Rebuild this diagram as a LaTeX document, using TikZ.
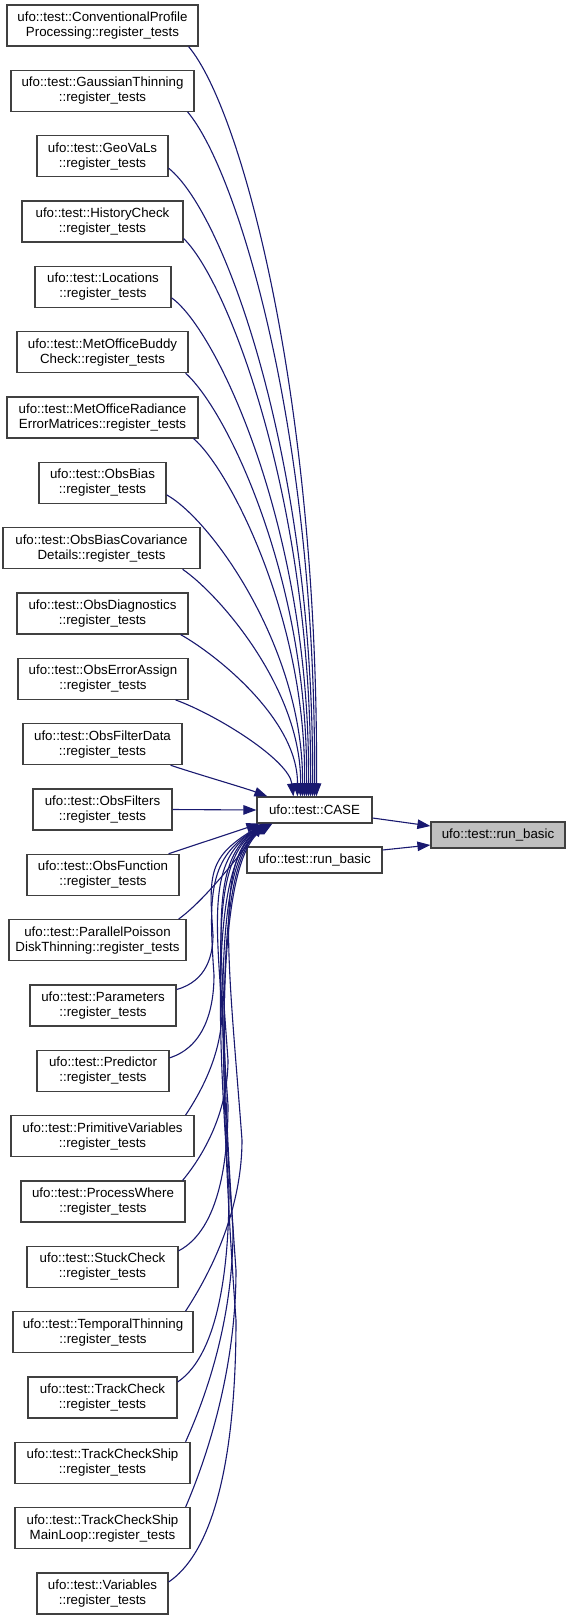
\documentclass[tikz,border=0pt]{standalone}
\usepackage{fontspec}
\setmainfont{Liberation Sans}
\usetikzlibrary{arrows.meta}
\definecolor{boxgray}{HTML}{404040}
\definecolor{hlgray}{HTML}{BFBFBF}
\definecolor{edgeblue}{HTML}{191970}
\tikzset{
  box/.style={draw=boxgray, line width=1.2pt, fill=white, align=center, inner sep=0pt,
    minimum height=41pt, font=\fontsize{13.3pt}{15pt}\selectfont},
  box1/.style={box, minimum height=26pt},
  edge/.style={draw=edgeblue, line width=1.1pt, -{Triangle[length=13pt,width=9.5pt]}}
}
\begin{document}
\begin{tikzpicture}[x=1pt,y=-1pt]
\useasboundingbox (0,0) rectangle (571,1620);
\fill[white] (0,0) rectangle (571,1620);
% left column
\node[box, minimum width=191pt] (n0) at (102.5,25.5) {ufo::test::ConventionalProfile\\Processing::register\_tests};
\node[box, minimum width=183pt] (n1) at (102.5,90.83) {ufo::test::GaussianThinning\\::register\_tests};
\node[box, minimum width=131pt] (n2) at (102.5,156.17) {ufo::test::GeoVaLs\\::register\_tests};
\node[box, minimum width=161pt] (n3) at (102.5,221.5) {ufo::test::HistoryCheck\\::register\_tests};
\node[box, minimum width=136pt] (n4) at (103,286.83) {ufo::test::Locations\\::register\_tests};
\node[box, minimum width=171pt] (n5) at (102.5,352.17) {ufo::test::MetOfficeBuddy\\Check::register\_tests};
\node[box, minimum width=191pt] (n6) at (102.5,417.5) {ufo::test::MetOfficeRadiance\\ErrorMatrices::register\_tests};
\node[box, minimum width=127pt] (n7) at (102.5,482.83) {ufo::test::ObsBias\\::register\_tests};
\node[box, minimum width=197pt] (n8) at (101.5,548.17) {ufo::test::ObsBiasCovariance\\Details::register\_tests};
\node[box, minimum width=171pt] (n9) at (102.5,613.5) {ufo::test::ObsDiagnostics\\::register\_tests};
\node[box, minimum width=170pt] (n10) at (103,678.83) {ufo::test::ObsErrorAssign\\::register\_tests};
\node[box, minimum width=159pt] (n11) at (102.5,744.17) {ufo::test::ObsFilterData\\::register\_tests};
\node[box, minimum width=139pt] (n12) at (102.5,809.5) {ufo::test::ObsFilters\\::register\_tests};
\node[box, minimum width=152pt] (n13) at (103,874.83) {ufo::test::ObsFunction\\::register\_tests};
\node[box, minimum width=177pt] (n14) at (97.5,940.17) {ufo::test::ParallelPoisson\\DiskThinning::register\_tests};
\node[box, minimum width=146pt] (n15) at (103,1005.5) {ufo::test::Parameters\\::register\_tests};
\node[box, minimum width=132pt] (n16) at (103,1070.83) {ufo::test::Predictor\\::register\_tests};
\node[box, minimum width=183pt] (n17) at (102.5,1136.17) {ufo::test::PrimitiveVariables\\::register\_tests};
\node[box, minimum width=164pt] (n18) at (103,1201.5) {ufo::test::ProcessWhere\\::register\_tests};
\node[box, minimum width=151pt] (n19) at (102.5,1266.83) {ufo::test::StuckCheck\\::register\_tests};
\node[box, minimum width=180pt] (n20) at (103,1332.17) {ufo::test::TemporalThinning\\::register\_tests};
\node[box, minimum width=149pt] (n21) at (102.5,1397.5) {ufo::test::TrackCheck\\::register\_tests};
\node[box, minimum width=175pt] (n22) at (102.5,1462.83) {ufo::test::TrackCheckShip\\::register\_tests};
\node[box, minimum width=175pt] (n23) at (102.5,1528.17) {ufo::test::TrackCheckShip\\MainLoop::register\_tests};
\node[box, minimum width=131pt] (n24) at (102.5,1593.5) {ufo::test::Variables\\::register\_tests};
% middle and right
\node[box1, minimum width=115pt] (CASE) at (314.5,810) {ufo::test::CASE};
\node[box1, minimum width=135pt] (rb) at (314.5,860) {ufo::test::run\_basic};
\node[box1, minimum width=134pt, fill=hlgray] (R) at (498,835) {ufo::test::run\_basic};
% upper edges
\draw[edge] ([xshift=-10pt]n0.south east) .. controls (242,110) and (319,400) .. ([xshift=60pt]CASE.north west);
\draw[edge] ([xshift=-7pt]n1.south east) .. controls (237,170) and (317,430) .. ([xshift=58pt]CASE.north west);
\draw[edge] ([yshift=-12pt]n2.east) .. controls (227,215) and (315,470) .. ([xshift=56pt]CASE.north west);
\draw[edge] ([yshift=-17pt]n3.east) .. controls (227,280) and (313,500) .. ([xshift=54pt]CASE.north west);
\draw[edge] ([yshift=-11pt]n4.east) .. controls (217,330) and (311,530) .. ([xshift=52pt]CASE.north west);
\draw[edge] ([xshift=-3pt]n5.south east) .. controls (227,410) and (309,580) .. ([xshift=50pt]CASE.north west);
\draw[edge] ([xshift=-5pt]n6.south east) .. controls (230,470) and (307,620) .. ([xshift=48pt]CASE.north west);
\draw[edge] ([yshift=-12pt]n7.east) .. controls (212,520) and (304,650) .. ([xshift=46pt]CASE.north west);
\draw[edge] ([xshift=-18pt]n8.south east) .. controls (220,595) and (302,690) .. ([xshift=44pt]CASE.north west);
\draw[edge] ([xshift=-8pt]n9.south east) .. controls (217,655) and (298,720) .. ([xshift=41pt]CASE.north west);
\draw[edge] ([xshift=-13pt]n10.south east) .. controls (217,715) and (289,760) .. ([xshift=37pt]CASE.north west);
\draw[edge] ([xshift=-12pt]n11.south east) .. controls (200,775) and (245,788) .. ([xshift=11pt]CASE.north west);
\draw[edge] (n12.east) -- (CASE.west);
% lower edges
\draw[edge] ([xshift=-11pt]n13.north east) -- ([xshift=3pt]CASE.south west);
\draw[edge] ([xshift=-8pt]n14.north east) .. controls (205,900) and (240,855) .. ([xshift=6pt]CASE.south west);
\draw[edge] ([yshift=16pt]n15.east) .. controls (207.5,981) and (213,954) .. (213,935)
  .. controls (208.5,873) and (209,857) .. ([xshift=7pt]CASE.south west);
\draw[edge] ([yshift=13pt]n16.east) .. controls (207,1046) and (214,1004) .. (214,975)
  .. controls (208,891) and (210,858) .. ([xshift=8pt]CASE.south west);
\draw[edge] ([xshift=-9pt]n17.north east) .. controls (207,1083) and (222,1047) .. (222,1010)
  .. controls (214.5,907) and (211,858) .. ([xshift=9pt]CASE.south west);
\draw[edge] ([xshift=-3pt]n18.north east) .. controls (211,1146) and (228,1103) .. (228,1060)
  .. controls (218.5,930) and (212,858) .. ([xshift=10pt]CASE.south west);
\draw[edge] ([yshift=16pt]n19.east) .. controls (220.5,1229) and (228,1156) .. (228,1105)
  .. controls (216.7,950) and (213,858) .. ([xshift=11pt]CASE.south west);
\draw[edge] ([xshift=-8pt]n20.north east) .. controls (219,1260) and (242,1200) .. (242,1140)
  .. controls (229,966) and (214,858) .. ([xshift=12pt]CASE.south west);
\draw[edge] ([yshift=15.5pt]n21.east) .. controls (221,1353) and (229,1257) .. (229,1190)
  .. controls (214.3,988) and (215,858) .. ([xshift=13pt]CASE.south west);
\draw[edge] ([xshift=-5pt]n22.north east) .. controls (214,1379) and (233,1305) .. (233,1230)
  .. controls (216.7,1006) and (216,858) .. ([xshift=14pt]CASE.south west);
\draw[edge] ([xshift=-5pt]n23.north east) .. controls (215.6,1437) and (236,1353) .. (236,1270)
  .. controls (218,1024) and (217,858) .. ([xshift=15pt]CASE.south west);
\draw[edge] ([yshift=11.5pt]n24.east) .. controls (226,1543) and (236,1412) .. (236,1320)
  .. controls (216,1047) and (218,858) .. ([xshift=16pt]CASE.south west);
% right edges
\draw[edge] ([yshift=-8pt]CASE.east) -- ([yshift=9pt]R.west);
\draw[edge] ([yshift=10pt]rb.east) -- ([yshift=-10pt]R.west);
\end{tikzpicture}
\end{document}
